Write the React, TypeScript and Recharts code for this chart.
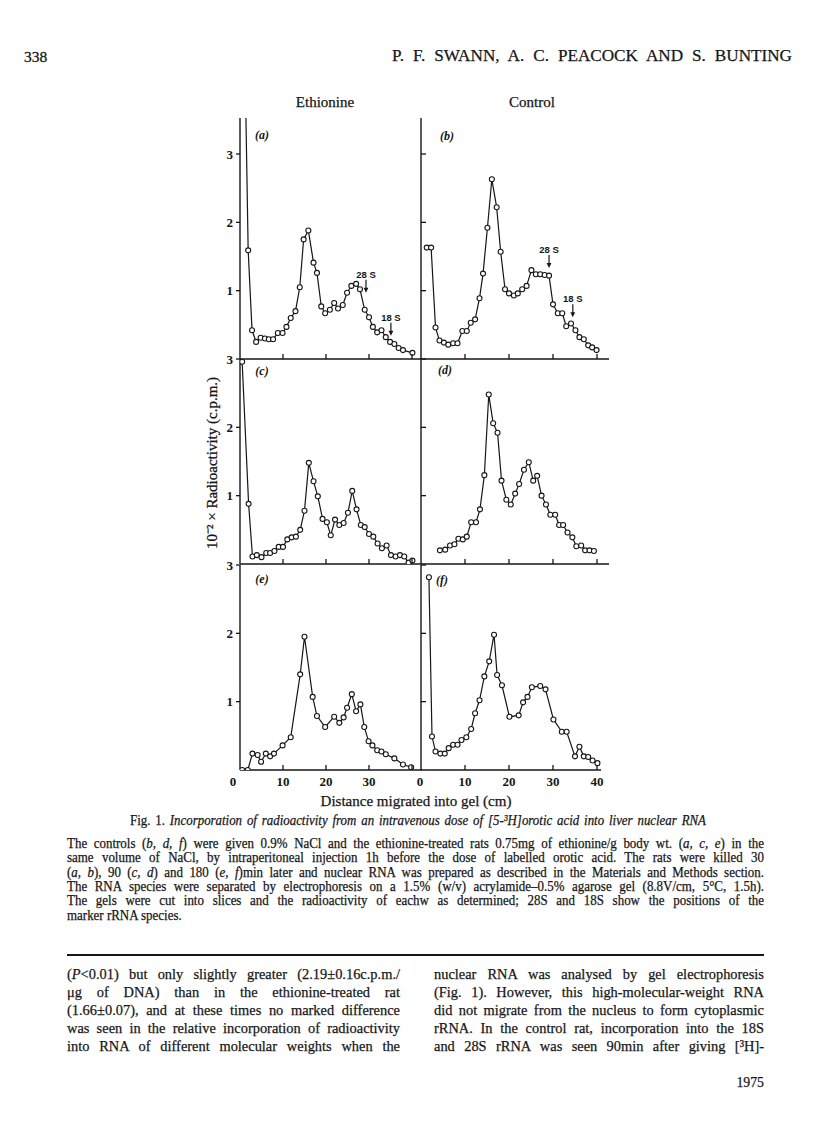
import React from "react";
import { LineChart, Line, XAxis, YAxis, ReferenceDot } from "recharts";

// slice position along the gel (cm) and 10^-2 x c.p.m. per slice
const distA = [1.0, 1.9, 2.8, 3.75, 4.8, 5.8, 6.7, 7.7, 8.8, 9.9, 10.8, 11.8, 12.9, 13.9, 14.8, 15.9, 17.1, 17.9, 18.9, 19.8, 20.9, 21.9, 22.8, 23.9, 24.9, 25.9, 27.0, 27.9, 29.0, 30.0, 30.9, 31.9, 32.9, 33.9, 34.9, 35.9, 36.9, 37.9, 40.1];
const cpmA = [4.95, 1.59, 0.42, 0.25, 0.31, 0.3, 0.29, 0.29, 0.38, 0.38, 0.47, 0.6, 0.7, 1.05, 1.75, 1.88, 1.41, 1.26, 0.77, 0.67, 0.72, 0.82, 0.74, 0.79, 0.97, 1.07, 1.1, 1.02, 0.72, 0.61, 0.47, 0.39, 0.42, 0.32, 0.25, 0.22, 0.16, 0.13, 0.09];

const distB = [1.3, 2.3, 3.3, 4.2, 5.2, 6.2, 7.3, 8.3, 9.4, 10.4, 11.3, 12.3, 13.3, 14.1, 15.1, 16.1, 17.2, 18.1, 19.1, 20.0, 21.1, 22.0, 23.0, 24.0, 25.1, 26.1, 27.1, 28.1, 29.1, 30.0, 31.1, 32.1, 33.0, 34.1, 35.1, 36.0, 37.0, 38.0, 38.9, 39.9];
const cpmB = [1.63, 1.63, 0.46, 0.27, 0.24, 0.21, 0.23, 0.23, 0.41, 0.41, 0.53, 0.58, 0.89, 1.25, 1.92, 2.63, 2.22, 1.57, 1.02, 0.96, 0.93, 0.96, 1.02, 1.07, 1.3, 1.24, 1.24, 1.23, 1.22, 0.8, 0.67, 0.67, 0.48, 0.52, 0.42, 0.32, 0.29, 0.2, 0.17, 0.13];

const distC = [0.5, 2.0, 2.9, 3.9, 5.0, 6.1, 7.0, 8.0, 9.0, 10.0, 11.0, 12.0, 13.0, 14.0, 15.0, 16.0, 17.1, 18.1, 19.2, 20.2, 21.1, 22.1, 23.1, 24.1, 25.1, 26.1, 27.1, 28.1, 29.0, 30.0, 31.0, 32.0, 33.0, 34.1, 35.1, 36.2, 37.2, 38.2, 39.2, 40.1];
const cpmC = [2.96, 0.88, 0.11, 0.13, 0.1, 0.16, 0.16, 0.19, 0.25, 0.25, 0.36, 0.39, 0.4, 0.5, 0.78, 1.48, 1.21, 0.99, 0.66, 0.61, 0.42, 0.65, 0.57, 0.6, 0.75, 1.07, 0.8, 0.57, 0.54, 0.44, 0.4, 0.3, 0.23, 0.27, 0.13, 0.11, 0.13, 0.11, 0.02, 0.05];

const distD = [4.3, 5.5, 6.6, 7.6, 8.5, 9.5, 10.4, 11.4, 12.5, 13.4, 14.4, 15.4, 16.4, 17.4, 18.3, 19.4, 20.4, 21.4, 22.3, 23.4, 24.5, 25.5, 26.4, 27.4, 28.4, 29.4, 30.5, 31.4, 32.3, 33.3, 34.4, 35.3, 36.4, 37.3, 38.3, 39.3];
const cpmD = [0.2, 0.21, 0.27, 0.29, 0.37, 0.36, 0.4, 0.61, 0.61, 0.8, 1.3, 2.48, 2.06, 1.92, 1.22, 0.94, 0.87, 1.03, 1.17, 1.38, 1.49, 1.22, 1.29, 1.0, 0.87, 0.72, 0.72, 0.57, 0.57, 0.46, 0.39, 0.26, 0.27, 0.2, 0.2, 0.19];

const distE = [0.5, 1.8, 2.9, 4.1, 4.9, 6.0, 7.0, 7.9, 9.9, 11.8, 14.0, 15.0, 16.9, 17.9, 19.8, 21.9, 23.1, 24.1, 24.9, 26.0, 27.0, 28.0, 28.9, 29.9, 30.8, 31.9, 32.9, 33.9, 35.9, 37.9, 39.8];
const cpmE = [0.0, 0.0, 0.24, 0.22, 0.12, 0.24, 0.2, 0.24, 0.36, 0.48, 1.4, 1.95, 1.07, 0.79, 0.63, 0.78, 0.69, 0.77, 0.91, 1.11, 0.86, 0.96, 0.63, 0.42, 0.36, 0.29, 0.27, 0.23, 0.17, 0.08, 0.04];

const distF = [1.8, 2.5, 3.3, 4.4, 5.4, 6.3, 7.3, 8.3, 9.2, 10.3, 11.4, 12.3, 13.3, 14.4, 15.5, 16.6, 17.3, 18.4, 20.1, 22.2, 23.2, 24.2, 25.2, 27.1, 28.3, 30.1, 32.0, 33.1, 35.0, 36.0, 37.0, 38.0, 39.0, 40.1];
const cpmF = [2.82, 0.49, 0.27, 0.24, 0.24, 0.32, 0.37, 0.37, 0.44, 0.48, 0.6, 0.83, 1.02, 1.37, 1.59, 1.98, 1.39, 1.24, 0.78, 0.8, 0.99, 1.07, 1.21, 1.23, 1.18, 0.74, 0.56, 0.56, 0.2, 0.34, 0.2, 0.19, 0.14, 0.1];

const xTickValues = [0, 10, 20, 30, 40];
const xLabelsLeft = ["0", "10", "20", "30", ""];
const xLabelsRight = ["0", "10", "20", "30", "40"];
const yTickValues = [1, 2, 3];

const markersA = [
  { x: 29.3, tip: 0.97, text: "28 S" },
  { x: 35.1, tip: 0.34, text: "18 S" },
];
const markersB = [
  { x: 29.1, tip: 1.33, text: "28 S" },
  { x: 34.5, tip: 0.61, text: "18 S" },
];

const captionLines = [
  "The controls (_b, d, f_) were given 0.9% NaCl and the ethionine-treated rats 0.75mg of ethionine/g body wt. (_a, c, e_) in the",
  "same volume of NaCl, by intraperitoneal injection 1h before the dose of labelled orotic acid. The rats were killed 30",
  "(_a, b_), 90 (_c, d_) and 180 (_e, f_)min later and nuclear RNA was prepared as described in the Materials and Methods section.",
  "The RNA species were separated by electrophoresis on a 1.5% (w/v) acrylamide–0.5% agarose gel (8.8V/cm, 5°C, 1.5h).",
  "The gels were cut into slices and the radioactivity of eachw as determined; 28S and 18S show the positions of the",
];
const bodyLeft = [
  "(_P_<0.01) but only slightly greater (2.19±0.16c.p.m./",
  "μg of DNA) than in the ethionine-treated rat",
  "(1.66±0.07), and at these times no marked difference",
  "was seen in the relative incorporation of radioactivity",
  "into RNA of different molecular weights when the",
];
const bodyRight = [
  "nuclear RNA was analysed by gel electrophoresis",
  "(Fig. 1). However, this high-molecular-weight RNA",
  "did not migrate from the nucleus to form cytoplasmic",
  "rRNA. In the control rat, incorporation into the 18S",
  "and 28S rRNA was seen 90min after giving [³H]-",
];

const INK = "#161616";
const SERIF = '"Liberation Serif", "Times New Roman", serif';
const UNIT = 68.33; // px per 100 c.p.m.

function rich(line: string) {
  return line.split("_").map((part, i) =>
    i % 2 ? <i key={i}>{part}</i> : <React.Fragment key={i}>{part}</React.Fragment>
  );
}

// one printed line, squeezed horizontally like the condensed type of the page
function TextLine({ x, y, w, size, align = "justify", squeeze = 1, children }: any) {
  return (
    <div
      style={{
        position: "absolute",
        left: x,
        top: y - size * 0.56,
        width: w / squeeze,
        fontSize: size,
        lineHeight: `${size}px`,
        whiteSpace: "nowrap",
        textAlign: align,
        textAlignLast: align,
        transform: `scaleX(${squeeze})`,
        transformOrigin: "0 0",
        WebkitTextStroke: "0.25px #161616",
      }}
    >
      {children}
    </div>
  );
}

function XTick({ x, y, payload, labels }: any) {
  const i = xTickValues.indexOf(payload.value);
  const label = labels ? labels[i] : "";
  const dx = payload.value === 0 ? (labels === xLabelsLeft ? -7 : -1) : 0;
  return (
    <g>
      {payload.value !== 0 && <line x1={x} y1={y} x2={x} y2={y - 5} stroke={INK} strokeWidth={1.3} />}
      {label && (
        <text x={x + dx} y={y + 16} textAnchor="middle" fontSize={13} fontWeight="bold" fontFamily={SERIF} fill={INK}>
          {label}
        </text>
      )}
    </g>
  );
}

function YTick({ x, y, payload, show }: any) {
  return (
    <g>
      <line x1={x} y1={y} x2={show ? x - 4 : x + 5} y2={y} stroke={INK} strokeWidth={1.3} />
      {show && (
        <text x={x - 7} y={y + 4.5} textAnchor="end" fontSize={13} fontWeight="bold" fontFamily={SERIF} fill={INK}>
          {payload.value}
        </text>
      )}
    </g>
  );
}

function Arrow({ cx, cy, text }: any) {
  return (
    <g>
      <text x={cx} y={cy - 15} textAnchor="middle" fontSize={9.5} fontWeight="bold" fontFamily={'"Liberation Sans Narrow", "Liberation Sans", sans-serif'} fill={INK}>
        {text}
      </text>
      <line x1={cx} y1={cy - 13} x2={cx} y2={cy - 4} stroke={INK} strokeWidth={1.2} />
      <polygon points={`${cx - 2.4},${cy - 5} ${cx + 2.4},${cy - 5} ${cx},${cy}`} fill={INK} />
    </g>
  );
}

function Panel({ dist, cpm, left, top, w, h, pxPerCm, yLabels, xLabels, markers = [] }: any) {
  const data = dist.map((d: number, i: number) => ({ d, v: cpm[i] }));
  const padL = 40, padT = 10, padR = 10, padB = 30;
  const xMax = w / pxPerCm;
  const yMax = h / UNIT;
  return (
    <div style={{ position: "absolute", left: left - padL, top: top - padT }}>
      <LineChart width={w + padL + padR} height={h + padT + padB} data={data} margin={{ top: padT, right: padR, bottom: 0, left: 0 }}>
        <XAxis
          type="number"
          dataKey="d"
          domain={[0, xMax]}
          ticks={xTickValues}
          interval={0}
          height={padB}
          tickSize={0}
          tickMargin={0}
          tickLine={false}
          allowDataOverflow
          axisLine={{ stroke: INK, strokeWidth: 1.4 }}
          tick={(t: any) => <XTick {...t} labels={xLabels} />}
        />
        <YAxis
          type="number"
          domain={[0, yMax]}
          ticks={yTickValues}
          interval={0}
          width={padL}
          tickSize={0}
          tickMargin={0}
          tickLine={false}
          allowDataOverflow
          axisLine={{ stroke: INK, strokeWidth: 1.4 }}
          tick={(t: any) => <YTick {...t} show={yLabels} />}
        />
        <Line
          type="linear"
          dataKey="v"
          stroke={INK}
          strokeWidth={1.2}
          dot={{ r: 2.5, fill: "#fff", stroke: INK, strokeWidth: 1.1 }}
          activeDot={false}
          isAnimationActive={false}
        />
        {markers.map((m: any) => (
          <ReferenceDot key={m.text} x={m.x} y={m.tip} r={0} ifOverflow="visible" shape={(s: any) => <Arrow {...s} text={m.text} />} />
        ))}
      </LineChart>
    </div>
  );
}

export default function App() {
  return (
    <div
      style={{
        position: "absolute",
        left: 0,
        top: 0,
        width: 816,
        height: 1136,
        background: "#fff",
        color: INK,
        fontFamily: SERIF,
        overflow: "hidden",
      }}
    >
      <svg width={816} height={1136} style={{ position: "absolute", left: 0, top: 0 }} fontFamily={SERIF} fill={INK}>
        <text x={24} y={62} fontSize={15.5} stroke={INK} strokeWidth={0.3}>338</text>
        <text x={325} y={107} fontSize={15} textAnchor="middle" stroke={INK} strokeWidth={0.25}>Ethionine</text>
        <text x={532} y={107} fontSize={15} textAnchor="middle" stroke={INK} strokeWidth={0.25}>Control</text>
        <text transform="translate(217,463) rotate(-90)" fontSize={15} textAnchor="middle" stroke={INK} strokeWidth={0.3}>
          10⁻² × Radioactivity (c.p.m.)
        </text>
        <text x={416} y={806} fontSize={15} textAnchor="middle" stroke={INK} strokeWidth={0.25}>Distance migrated into gel (cm)</text>
        <g fontSize={12} fontStyle="italic" fontWeight="bold">
          <text x={262} y={139} textAnchor="middle">(a)</text>
          <text x={447} y={140} textAnchor="middle">(b)</text>
          <text x={262} y={375} textAnchor="middle">(c)</text>
          <text x={445} y={374} textAnchor="middle">(d)</text>
          <text x={262} y={583} textAnchor="middle">(e)</text>
          <text x={442} y={584} textAnchor="middle">(f)</text>
        </g>
      </svg>

      <Panel dist={distA} cpm={cpmA} left={240} top={118} w={182} h={241} pxPerCm={4.3} yLabels markers={markersA} />
      <Panel dist={distB} cpm={cpmB} left={421} top={118} w={188} h={241} pxPerCm={4.4} yLabels={false} markers={markersB} />
      <Panel dist={distC} cpm={cpmC} left={240} top={359} w={182} h={205} pxPerCm={4.3} yLabels />
      <Panel dist={distD} cpm={cpmD} left={421} top={359} w={188} h={205} pxPerCm={4.4} yLabels={false} />
      <Panel dist={distE} cpm={cpmE} left={240} top={565} w={182} h={205} pxPerCm={4.3} yLabels xLabels={xLabelsLeft} />
      <Panel dist={distF} cpm={cpmF} left={421} top={565} w={180} h={205} pxPerCm={4.4} yLabels={false} xLabels={xLabelsRight} />

      <TextLine x={392} y={57} w={400} size={17.5} squeeze={0.98}>P. F. SWANN, A. C. PEACOCK AND S. BUNTING</TextLine>

      <TextLine x={130} y={822} w={576} size={14} squeeze={0.92}>
        Fig. 1. <i>Incorporation of radioactivity from an intravenous dose of [5-³H]orotic acid into liver nuclear RNA</i>
      </TextLine>
      {captionLines.map((l, i) => (
        <TextLine key={i} x={67} y={845 + i * 14.3} w={697} size={14} squeeze={0.925}>
          {rich(l)}
        </TextLine>
      ))}
      <TextLine x={67} y={845 + 5 * 14.3} w={697} size={14} squeeze={0.925} align="left">
        marker rRNA species.
      </TextLine>

      <div style={{ position: "absolute", left: 67, top: 954, width: 697, height: 1.5, background: INK }} />

      {bodyLeft.map((l, i) => (
        <TextLine key={i} x={67} y={975 + i * 18} w={333} size={15.5} squeeze={0.93}>
          {rich(l)}
        </TextLine>
      ))}
      {bodyRight.map((l, i) => (
        <TextLine key={i} x={434} y={975 + i * 18} w={330} size={15.5} squeeze={0.93}>
          {rich(l)}
        </TextLine>
      ))}
      <TextLine x={664} y={1083} w={100} size={15} squeeze={0.92} align="right">1975</TextLine>
    </div>
  );
}
